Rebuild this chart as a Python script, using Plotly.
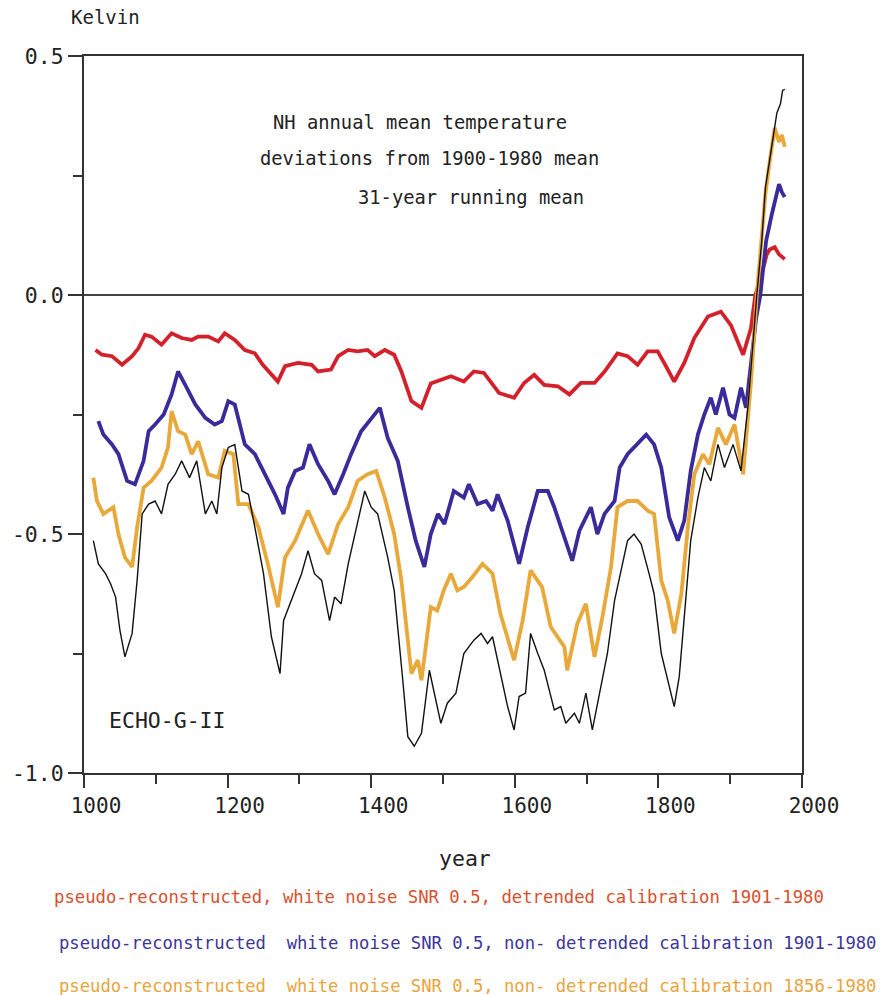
import plotly.graph_objects as go

# ---------------- data ----------------
red_years = [1016,1025,1039,1053,1067,1076,1085,1094,1108,1122,1136,1150,1159,1173,1187,1196,
             1210,1224,1238,1249,1270,1280,1298,1317,1326,1344,1354,1368,1381,1395,1405,1419,
             1432,1442,1456,1470,1483,1497,1511,1529,1543,1557,1578,1599,1613,1627,1641,1660,
             1676,1692,1711,1725,1743,1757,1771,1785,1799,1808,1822,1836,1850,1869,1887,1901,
             1918,1929,1935,1941,1951,1955,1962,1968,1976]
red_vals = [-0.115,-0.125,-0.128,-0.146,-0.128,-0.111,-0.083,-0.087,-0.104,-0.080,-0.090,-0.094,
            -0.087,-0.087,-0.097,-0.080,-0.094,-0.115,-0.122,-0.146,-0.181,-0.149,-0.142,-0.146,
            -0.160,-0.156,-0.128,-0.115,-0.118,-0.115,-0.128,-0.115,-0.125,-0.160,-0.222,-0.236,
            -0.185,-0.177,-0.170,-0.181,-0.160,-0.163,-0.205,-0.215,-0.184,-0.167,-0.188,-0.191,
            -0.208,-0.184,-0.184,-0.160,-0.122,-0.128,-0.146,-0.118,-0.118,-0.142,-0.181,-0.142,
            -0.090,-0.045,-0.035,-0.063,-0.125,-0.069,0.000,0.028,0.085,0.095,0.100,0.085,0.075]

blue_years = [1020,1027,1039,1048,1060,1071,1083,1090,1099,1111,1122,1131,1141,1155,1169,1182,
              1192,1201,1210,1224,1238,1250,1266,1278,1284,1294,1305,1314,1326,1340,1349,1361,
              1372,1386,1400,1412,1423,1437,1451,1462,1474,1483,1493,1502,1515,1529,1536,1548,
              1560,1569,1576,1590,1606,1618,1632,1646,1655,1667,1680,1690,1706,1715,1725,1739,
              1746,1757,1766,1783,1794,1804,1815,1827,1836,1845,1855,1864,1873,1880,1890,1899,
              1906,1915,1922,1929,1936,1942,1950,1958,1963,1968,1972,1976]
blue_vals = [-0.264,-0.292,-0.3125,-0.333,-0.389,-0.396,-0.347,-0.285,-0.271,-0.250,-0.208,-0.160,
             -0.188,-0.229,-0.257,-0.271,-0.264,-0.222,-0.229,-0.3125,-0.333,-0.368,-0.417,-0.458,
             -0.403,-0.368,-0.361,-0.3125,-0.354,-0.389,-0.417,-0.375,-0.333,-0.285,-0.257,-0.236,
             -0.299,-0.347,-0.444,-0.514,-0.569,-0.500,-0.458,-0.479,-0.410,-0.424,-0.396,-0.4375,
             -0.431,-0.451,-0.417,-0.472,-0.5625,-0.486,-0.410,-0.410,-0.444,-0.500,-0.556,-0.493,
             -0.444,-0.500,-0.458,-0.431,-0.361,-0.333,-0.319,-0.292,-0.3125,-0.361,-0.465,-0.514,
             -0.472,-0.368,-0.292,-0.250,-0.215,-0.250,-0.194,-0.250,-0.257,-0.194,-0.236,-0.146,
             -0.050,0.000,0.113,0.169,0.200,0.232,0.215,0.205]

orange_years = [1013,1018,1027,1041,1048,1057,1067,1074,1083,1094,1108,1117,1122,1131,1141,1150,
                1159,1173,1187,1196,1208,1215,1229,1243,1256,1270,1280,1294,1312,1326,1340,1354,
                1368,1381,1395,1407,1419,1432,1442,1456,1465,1470,1483,1492,1501,1511,1520,1529,
                1541,1555,1569,1580,1599,1611,1622,1638,1650,1669,1673,1687,1699,1711,1722,1734,
                1743,1757,1771,1785,1794,1804,1813,1822,1832,1841,1850,1862,1871,1883,1894,1906,
                1918,1929,1937,1943,1949,1955,1962,1968,1972,1976]
orange_vals = [-0.382,-0.431,-0.458,-0.444,-0.500,-0.549,-0.569,-0.486,-0.403,-0.389,-0.361,-0.319,
               -0.243,-0.285,-0.292,-0.333,-0.306,-0.375,-0.382,-0.326,-0.333,-0.4375,-0.4375,-0.486,
               -0.5625,-0.653,-0.549,-0.514,-0.451,-0.500,-0.542,-0.479,-0.444,-0.389,-0.375,-0.368,
               -0.424,-0.500,-0.597,-0.792,-0.764,-0.806,-0.653,-0.660,-0.618,-0.583,-0.618,-0.611,
               -0.590,-0.5625,-0.583,-0.667,-0.764,-0.681,-0.576,-0.611,-0.694,-0.736,-0.785,-0.688,
               -0.646,-0.757,-0.674,-0.569,-0.444,-0.431,-0.431,-0.451,-0.458,-0.597,-0.639,-0.708,
               -0.625,-0.486,-0.375,-0.333,-0.354,-0.278,-0.3125,-0.271,-0.375,-0.181,0.000,0.113,
               0.211,0.280,0.350,0.320,0.335,0.310]

black_years = [1013,1020,1030,1037,1044,1050,1057,1067,1074,1081,1090,1099,1108,1117,1127,1136,
               1147,1157,1169,1178,1185,1192,1201,1210,1220,1229,1238,1250,1261,1273,1278,1289,
               1303,1312,1321,1331,1342,1349,1358,1368,1377,1391,1400,1409,1423,1432,1444,1451,
               1460,1470,1481,1488,1497,1506,1518,1529,1543,1553,1562,1569,1578,1590,1599,1606,
               1615,1622,1632,1641,1655,1664,1671,1683,1690,1699,1708,1720,1729,1739,1748,1757,
               1766,1776,1787,1794,1804,1813,1822,1829,1836,1845,1855,1864,1873,1883,1892,1904,
               1915,1925,1937,1944,1949,1957,1965,1970,1973,1976]
black_vals = [-0.514,-0.5625,-0.583,-0.604,-0.632,-0.701,-0.757,-0.708,-0.597,-0.458,-0.4375,-0.431,
              -0.458,-0.396,-0.375,-0.347,-0.382,-0.347,-0.458,-0.431,-0.458,-0.361,-0.319,-0.313,
              -0.410,-0.417,-0.486,-0.583,-0.715,-0.792,-0.681,-0.639,-0.583,-0.535,-0.583,-0.597,
              -0.681,-0.632,-0.646,-0.5625,-0.500,-0.410,-0.444,-0.458,-0.549,-0.618,-0.806,-0.924,
              -0.944,-0.917,-0.785,-0.833,-0.896,-0.854,-0.833,-0.750,-0.722,-0.708,-0.729,-0.715,
              -0.778,-0.861,-0.910,-0.840,-0.833,-0.708,-0.750,-0.785,-0.868,-0.861,-0.896,-0.875,
              -0.896,-0.833,-0.910,-0.819,-0.750,-0.639,-0.576,-0.514,-0.500,-0.521,-0.583,-0.625,
              -0.750,-0.806,-0.861,-0.799,-0.667,-0.514,-0.424,-0.361,-0.389,-0.3125,-0.361,-0.3125,
              -0.368,-0.229,0.000,0.113,0.224,0.300,0.381,0.400,0.428,0.430]

y_tickvals = [-1.0, -0.5, 0.0, 0.5]
y_ticktext = ["-1.0", "-0.5", "0.0", "0.5"]
x_tickvals = [1000, 1200, 1400, 1600, 1800, 2000]

title_lines = ["NH annual mean temperature", "deviations from 1900-1980 mean", "31-year running mean"]
legend_lines = [
    "pseudo-reconstructed, white noise SNR 0.5, detrended calibration 1901-1980",
    "pseudo-reconstructed  white noise SNR 0.5, non- detrended calibration 1901-1980",
    "pseudo-reconstructed  white noise SNR 0.5, non- detrended calibration 1856-1980",
]

# ---------------- layout helpers ----------------
W, H = 880, 995
L, R, T, B = 82, 802, 56, 773
FONT = "DejaVu Sans Mono"


def px(x):
    return (x - L) / (R - L)


def py(y):
    return (B - y) / (B - T)


fig = go.Figure()
fig.add_trace(go.Scatter(x=red_years, y=red_vals, mode="lines",
                         line=dict(color="#d4202a", width=3.8), name="red"))
fig.add_trace(go.Scatter(x=blue_years, y=blue_vals, mode="lines",
                         line=dict(color="#3a2b9b", width=3.8), name="blue"))
fig.add_trace(go.Scatter(x=orange_years, y=orange_vals, mode="lines",
                         line=dict(color="#e9a83a", width=3.8), name="orange"))
fig.add_trace(go.Scatter(x=black_years, y=black_vals, mode="lines",
                         line=dict(color="#111111", width=1.4), name="black"))

ann = []


def text(s, x, y, size, color="#222222", anchor="left"):
    ann.append(dict(text=s, x=px(x), y=py(y), xref="paper", yref="paper",
                    xanchor=anchor, yanchor="middle", showarrow=False,
                    font=dict(family=FONT, size=size, color=color)))


text("Kelvin", 67, 17, 19)
text(title_lines[0], 270, 122, 18.8)
text(title_lines[1], 256, 158, 18.8)
text(title_lines[2], 355, 197, 18.8)
text("ECHO-G-II", 105, 720, 21.5)
text("year", 464, 858, 21.5, anchor="center")
text(legend_lines[0], 50, 897, 17.3, color="#d9502e")
text(legend_lines[1], 55, 943, 17.2, color="#3d3599")
text(legend_lines[2], 55, 986, 17.2, color="#e9a33c")

fig.update_layout(
    width=W, height=H,
    margin=dict(l=L, r=W - R, t=T, b=H - B, pad=0),
    paper_bgcolor="white", plot_bgcolor="white",
    showlegend=False,
    annotations=ann,
    font=dict(family=FONT, color="#222222"),
)
fig.update_xaxes(
    range=[1000, 2000], tickmode="array", tickvals=x_tickvals,
    ticks="outside", ticklen=13, tickwidth=1.6, tickcolor="#333333",
    minor=dict(dtick=100, tick0=1000, ticks="outside", ticklen=9, tickwidth=1.6, tickcolor="#333333"),
    showline=True, mirror=True, linecolor="#333333", linewidth=2,
    showgrid=False, zeroline=False,
    tickfont=dict(family=FONT, size=21, color="#222222"),
    ticklabelshift=12,
)
fig.update_yaxes(
    range=[-1.0, 0.5], tickmode="array", tickvals=y_tickvals, ticktext=y_ticktext,
    ticks="outside", ticklen=14, tickwidth=1.6, tickcolor="#333333",
    minor=dict(dtick=0.25, tick0=0, ticks="outside", ticklen=9, tickwidth=1.6, tickcolor="#333333"),
    showline=True, mirror=True, linecolor="#333333", linewidth=2,
    showgrid=False, zeroline=True, zerolinecolor="#444444", zerolinewidth=1.5,
    tickfont=dict(family=FONT, size=21.5, color="#222222"),
)

fig.write_html(
    "out.html",
    config={"displayModeBar": False},
    post_script="document.body.style.margin='0px';document.body.style.padding='0px';"
                "document.documentElement.style.overflow='hidden';",
)
